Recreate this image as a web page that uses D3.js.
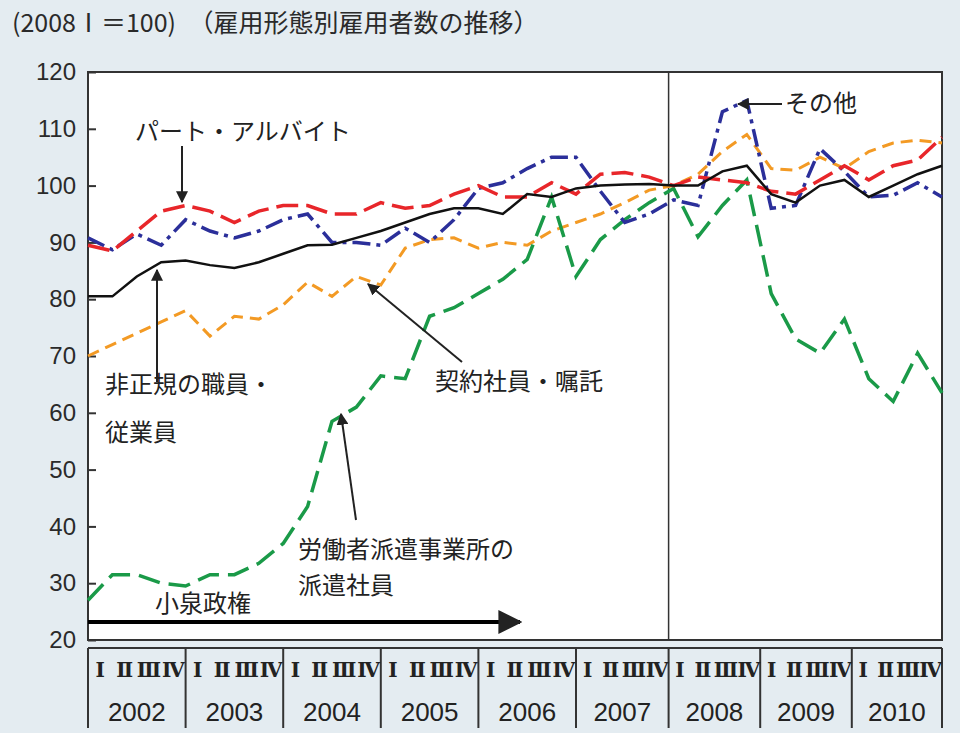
<!DOCTYPE html>
<html><head><meta charset="utf-8">
<script src="https://cdn.jsdelivr.net/npm/d3@7"></script>
<style>body{margin:0;background:#e4ecf1;} text{font-family:"Noto Sans CJK JP","Noto Sans",sans-serif;}</style>
</head><body>
<script>
var years = ["2002","2003","2004","2005","2006","2007","2008","2009","2010"];
var quarters = ["Ⅰ","Ⅱ","Ⅲ","Ⅳ"];
var yTicks = [20,30,40,50,60,70,80,90,100,110,120];

// 2002Ⅰ .. 2010Ⅳ, 36 quarters, 2008Ⅰ = 100
var total = [80.5,80.5,84,86.5,86.8,86,85.5,86.5,88,89.5,89.6,90.8,92,93.5,95,96,96,95,98.5,98,99.5,100,100.2,100.3,100,100,102.5,103.5,98.5,97,100,101,98,100,102,103.5];
var partTime = [89.5,88.5,92,95.5,96.5,95.5,93.5,95.5,96.5,96.5,95,95,97,96,96.5,98.5,100,98,98,100.5,98.5,102,102.3,101.5,100,101.5,101,100.5,99,98.5,101,103.5,101,103.5,104.5,108.5];
var other = [90.8,88.7,91.5,89.5,94,92,90.8,92,94,95,90,90,89.5,92.5,90,94,99.5,100.5,103,105,105,99,93.5,95,97.5,96.5,113,115,96,96.5,106.5,102.5,98,98.3,100.5,98];
var contract = [70,72,74,76,78,73.5,77,76.5,79,83,80.5,84,82.5,89,90.5,90.8,89,90,89.5,92,93.5,95,97,99.2,100,102,106,109,103,102.7,105,103,106,107.5,108,107.5];
var dispatch = [27,31.5,31.5,30,29.5,31.5,31.5,33.5,37,43.5,58.5,61,66.5,66,77,78.5,81,83.5,87,98,84,90.5,94,97,99.5,91,96.5,101,81,73,70.5,76.5,66,62,70.5,63.5];

var W = 960, H = 733, L = 88, R = 942, T = 72, B = 640;
var svg = d3.select('body').append('svg').attr('width', W).attr('height', H);

var x = d3.scaleLinear().domain([0, 35]).range([L, R]);
var y = d3.scaleLinear().domain([20, 120]).range([B, T]);

svg.append('rect').attr('x', L).attr('y', T).attr('width', R - L).attr('height', B - T)
    .attr('fill', '#fff').attr('stroke', '#333').attr('stroke-width', 2);

svg.append('text').attr('x', 12).attr('y', 32).attr('font-size', 25).attr('fill', '#2a2a2a')
    .text('(2008Ⅰ＝100)　（雇用形態別雇用者数の推移）');

// y axis
var ya = svg.append('g').attr('transform', 'translate(' + L + ',0)')
    .call(d3.axisLeft(y).tickValues(yTicks).tickSize(-8).tickPadding(12));
ya.select('.domain').remove();
ya.selectAll('text').attr('font-size', 24).attr('fill', '#2a2a2a').style('font-family', 'Liberation Sans, Arial');
ya.selectAll('line').attr('stroke', '#333').attr('stroke-width', 2);

// 2008 divider
svg.append('line').attr('x1', x(24) - 5).attr('x2', x(24) - 5).attr('y1', T).attr('y2', B)
    .attr('stroke', '#333').attr('stroke-width', 1.5);

// bottom category axis
var bottom = svg.append('g');
bottom.append('line').attr('x1', L).attr('x2', R).attr('y1', 648).attr('y2', 648).attr('stroke', '#333').attr('stroke-width', 2);
var bounds = years.map(function (d, i) { return i === 0 ? L : x(i * 4) - (i >= 6 ? 5 + (i - 6) * 6 : 0); });
bounds.push(R);
bounds.forEach(function (b) {
    bottom.append('line').attr('x1', b).attr('x2', b).attr('y1', 648).attr('y2', 728).attr('stroke', '#333').attr('stroke-width', 2);
});
years.forEach(function (yr, i) {
    var a = bounds[i], b = bounds[i + 1], w = (b - a);
    quarters.forEach(function (q, j) {
        bottom.append('text').attr('x', a + w * (j + 0.5) / 4).attr('y', 677).attr('text-anchor', 'middle')
            .attr('font-size', 20).attr('font-weight', 'bold').style('font-family', 'DejaVu Serif, serif')
            .attr('fill', '#222').text(q);
    });
    bottom.append('text').attr('x', (a + b) / 2).attr('y', 721).attr('text-anchor', 'middle')
        .attr('font-size', 26).style('font-family', 'Liberation Sans, Arial').attr('fill', '#222').text(yr);
});

var line = d3.line().x(function (d, i) { return x(i); }).y(function (d) { return y(d); });
var series = [
    { v: contract, c: '#f39a24', w: 3, dash: '12,7' },
    { v: dispatch, c: '#1a9a48', w: 3.5, dash: '22,9' },
    { v: other, c: '#2b2f9a', w: 3.5, dash: '18,6,4,6' },
    { v: partTime, c: '#e8262a', w: 3.5, dash: '22,8' },
    { v: total, c: '#111', w: 2.5, dash: null }
];
svg.selectAll('path.s').data(series).enter().append('path').attr('class', 's')
    .attr('d', function (d) { return line(d.v); })
    .attr('fill', 'none').attr('stroke', function (d) { return d.c; })
    .attr('stroke-width', function (d) { return d.w; })
    .attr('stroke-dasharray', function (d) { return d.dash; });

// annotations
svg.append('defs').append('marker').attr('id', 'ah').attr('viewBox', '0 0 10 10')
    .attr('refX', 9).attr('refY', 5).attr('markerWidth', 6).attr('markerHeight', 6).attr('orient', 'auto')
    .append('path').attr('d', 'M0,0L10,5L0,10z').attr('fill', '#222');
var arrows = [
    [182, 146, 182, 202], [738, 104, 782, 104], [157, 382, 157, 270], [462, 362, 368, 284], [356, 520, 341, 414]
];
arrows.forEach(function (a, i) {
    var p = i === 1 ? [a[2], a[3], a[0], a[1]] : a;
    svg.append('line').attr('x1', p[0]).attr('y1', p[1]).attr('x2', p[2]).attr('y2', p[3])
        .attr('stroke', '#222').attr('stroke-width', 2).attr('marker-end', 'url(#ah)');
});
var labels = [
    [135, 140, 'パート・アルバイト'], [785, 112, 'その他'], [105, 393, '非正規の職員・'], [105, 441, '従業員'],
    [435, 390, '契約社員・嘱託'], [298, 558, '労働者派遣事業所の'], [298, 594, '派遣社員'], [155, 612, '小泉政権']
];
labels.forEach(function (l) {
    svg.append('text').attr('x', l[0]).attr('y', l[1]).attr('font-size', 24).attr('fill', '#222').text(l[2]);
});
svg.append('line').attr('x1', L).attr('x2', 520).attr('y1', 622).attr('y2', 622)
    .attr('stroke', '#000').attr('stroke-width', 4).attr('marker-end', 'url(#ah)');
</script>
</body></html>
